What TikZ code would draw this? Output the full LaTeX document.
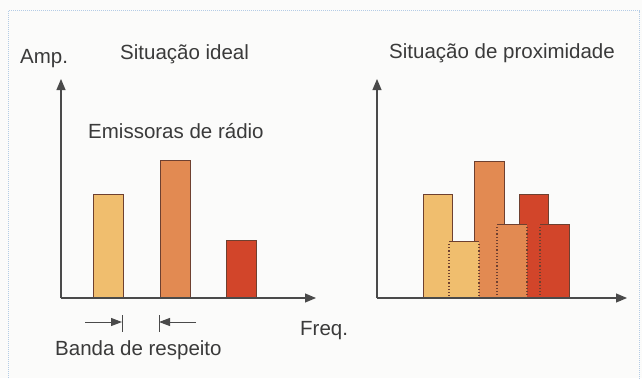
\documentclass[tikz,border=0pt]{standalone}
\usepackage{fontspec}
\setmainfont{Liberation Sans}
\usetikzlibrary{arrows.meta}
\definecolor{bgc}{HTML}{FBFBFA}
\definecolor{frame}{HTML}{B4CCE6}
\definecolor{axisc}{HTML}{4A4A4A}
\definecolor{txt}{HTML}{3A3A3A}
\definecolor{ylw}{HTML}{F0BE6E}
\definecolor{org}{HTML}{E28A52}
\definecolor{redb}{HTML}{D2452A}
\definecolor{edge}{HTML}{6E4030}
\tikzset{
  axisline/.style={draw=axisc, line width=1.1pt, -{Triangle[length=11pt,width=9pt]}},
  barbox/.style={draw=edge, line width=1pt},
  dotedge/.style={draw=edge, line width=1.2pt, dash pattern=on 1.2pt off 2pt},
  solidedge/.style={draw=edge, line width=1pt},
  lbl/.style={text=txt, font=\fontsize{20.5}{24}\selectfont, inner sep=0pt, anchor=base west},
  bandarrow/.style={draw=axisc, line width=1pt, -{Triangle[length=11pt,width=8pt]}},
  bandbar/.style={draw=axisc, line width=1pt},
}
\begin{document}
\begin{tikzpicture}[x=1pt,y=-1pt]
\useasboundingbox (0,0) rectangle (642,378);
\fill[bgc] (0,0) rectangle (642,378);
\draw[frame, line width=1.4pt, dash pattern=on 1pt off 1pt] (8.5,400) -- (8.5,10.5) -- (639.5,10.5) -- (639.5,400);

% ---------- left chart ----------
\coordinate (o1) at (61,298);
\coordinate (y1) at (61,79);
\coordinate (x1) at (316,298);
\fill[ylw] (93,194) rectangle (123,298);
\fill[org] (160,160) rectangle (190,298);
\fill[redb] (226,240) rectangle (256,298);
\draw[barbox] (93,298) -- (93,194) -- (123,194) -- (123,298);
\draw[barbox] (160,298) -- (160,160) -- (190,160) -- (190,298);
\draw[barbox] (226,298) -- (226,240) -- (256,240) -- (256,298);
\draw[axisline] (o1) -- (y1);
\draw[axisline] (o1) -- (x1);

\node[lbl] (amp) at (20,63) {Amp.};
\node[lbl] (t1) at (120,59) {Situação ideal};
\node[lbl] (em) at (88,138) {Emissoras de rádio};
\node[lbl] (fq) at (300,335) {Freq.};
\node[lbl] (bd) at (55,355) {Banda de respeito};

\coordinate (la) at (85,322);
\coordinate (lb) at (122,322);
\coordinate (ra) at (196,322);
\coordinate (rb) at (159,322);
\draw[bandarrow] (la) -- (lb);
\draw[bandarrow] (ra) -- (rb);
\draw[bandbar] (122,315) -- (122,332);
\draw[bandbar] (159,315) -- (159,332);

% ---------- right chart ----------
\coordinate (o2) at (377,298);
\coordinate (y2) at (377,79);
\coordinate (x2) at (627,298);
\node[lbl] (t2) at (389,58) {Situação de proximidade};

% back bars
\fill[ylw] (423,194) rectangle (452,298);
\fill[org] (474,161) rectangle (504,298);
\fill[redb] (519,194) rectangle (548,298);
\draw[solidedge] (423,298) -- (423,194) -- (452,194) -- (452,298);
\draw[solidedge] (474,298) -- (474,161) -- (504,161) -- (504,298);
\draw[solidedge] (519,298) -- (519,194) -- (548,194) -- (548,298);
% front bars
\fill[ylw] (449,241) rectangle (479,298);
\fill[org] (497,224) rectangle (527,298);
\fill[redb] (540,224) rectangle (569,298);
\draw[solidedge] (449,241) -- (479,241);
\draw[solidedge] (497,224) -- (527,224);
\draw[solidedge] (540,224) -- (569,224) -- (569,298);
\draw[dotedge] (449,244) -- (449,298);
\draw[dotedge] (479,244) -- (479,298);
\draw[dotedge] (497,227) -- (497,298);
\draw[dotedge] (527,227) -- (527,298);
\draw[dotedge] (540,227) -- (540,298);

\draw[axisline] (o2) -- (y2);
\draw[axisline] (o2) -- (x2);
\end{tikzpicture}
\end{document}
